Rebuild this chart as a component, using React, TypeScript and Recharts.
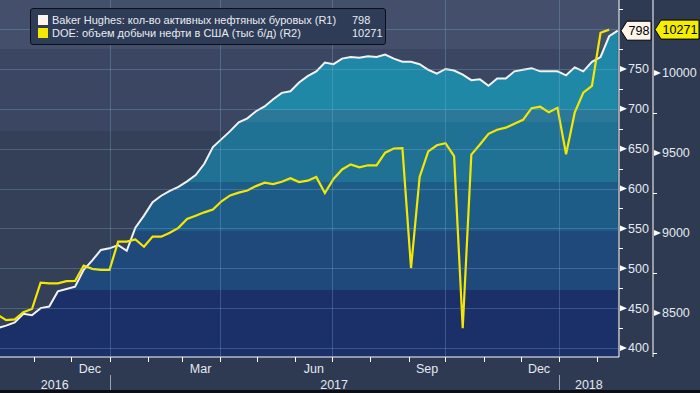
import React from 'react';
import { Area, ComposedChart, Line, XAxis, YAxis } from 'recharts';

// weekly points (plotted at week end)
const weeks = [
  '2016-10-02', '2016-10-09', '2016-10-16', '2016-10-23', '2016-10-30', '2016-11-06', '2016-11-13',
  '2016-11-20', '2016-11-27', '2016-12-04', '2016-12-11', '2016-12-18', '2016-12-25',
  '2017-01-01', '2017-01-08', '2017-01-15', '2017-01-22', '2017-01-29', '2017-02-05', '2017-02-12',
  '2017-02-19', '2017-02-26', '2017-03-05', '2017-03-12', '2017-03-19', '2017-03-26', '2017-04-02',
  '2017-04-09', '2017-04-16', '2017-04-23', '2017-04-30', '2017-05-07', '2017-05-14', '2017-05-21',
  '2017-05-28', '2017-06-04', '2017-06-11', '2017-06-18', '2017-06-25', '2017-07-02', '2017-07-09',
  '2017-07-16', '2017-07-23', '2017-07-30', '2017-08-06', '2017-08-13', '2017-08-20', '2017-08-27',
  '2017-09-03', '2017-09-10', '2017-09-17', '2017-09-24', '2017-10-01', '2017-10-08', '2017-10-15',
  '2017-10-22', '2017-10-29', '2017-11-05', '2017-11-12', '2017-11-19', '2017-11-26', '2017-12-03',
  '2017-12-10', '2017-12-17', '2017-12-24', '2017-12-31',
  '2018-01-07', '2018-01-14', '2018-01-21', '2018-01-28', '2018-02-04', '2018-02-11', '2018-02-18',
];

const rigCount = [
  425, 428, 432, 443, 441, 450, 452, 471, 474, 477, 498, 510, 523,
  525, 529, 522, 551, 566, 583, 591, 597, 602, 609, 617, 631, 652, 662, 672, 683, 688, 697, 703,
  712, 720, 722, 733, 741, 747, 758, 756, 763, 765, 764, 766, 765, 768, 763, 759, 759, 756, 749,
  744, 750, 748, 743, 736, 737, 729, 738, 738, 747, 749, 751, 747, 747, 747,
  742, 752, 747, 759, 765, 791, 798,
];

const oilOutput = [
  8490, 8455, 8460, 8505, 8525, 8690, 8685, 8685, 8699, 8700, 8796, 8776, 8770,
  8770, 8946, 8946, 8960, 8914, 8978, 8977, 9001, 9032, 9088, 9108, 9129, 9147, 9198, 9235, 9252,
  9265, 9293, 9314, 9305, 9320, 9342, 9318, 9327, 9350, 9250, 9338, 9397, 9429, 9410, 9423, 9423,
  9502, 9528, 9530, 8781, 9350, 9510, 9548, 9561, 9480, 8405, 9490, 9553, 9620, 9645, 9658, 9682,
  9707, 9780, 9789, 9754, 9782,
  9492, 9752, 9877, 9919, 10251, 10271, null,
];

const seriesNames = [
  'Baker Hughes: кол-во активных нефтяных буровых (R1)',
  'DOE: объем добычи нефти в США (тыс б/д) (R2)',
];

const xDomainDates = ['2016-10-04', '2018-02-19'];
const monthStarts = [
  '2016-11-01', '2016-12-01', '2017-01-01', '2017-02-01', '2017-03-01', '2017-04-01', '2017-05-01',
  '2017-06-01', '2017-07-01', '2017-08-01', '2017-09-01', '2017-10-01', '2017-11-01', '2017-12-01',
  '2018-01-01', '2018-02-01',
];
const quarterStarts = ['2017-01-01', '2017-04-01', '2017-07-01', '2017-10-01', '2018-01-01'];
const yearStarts = ['2017-01-01', '2018-01-01'];
const monthLabels = ['Dec', 'Mar', 'Jun', 'Sep', 'Dec'];
const monthLabelDates = ['2016-12-16', '2017-03-16', '2017-06-16', '2017-09-16', '2017-12-16'];
const yearLabels = ['2016', '2017', '2018'];

const rigDomain = [388.7, 836.5];
const rigTicks = [400, 450, 500, 550, 600, 650, 700, 750];
const rigMinorTicks = [425, 475, 525, 575, 625, 675, 725, 775, 825];
const rigGridValues = [400, 450, 500, 550, 600, 650, 700, 750, 800];

const outputDomain = [8225, 10456];
const outputTicks = [8500, 9000, 9500, 10000];
const outputMinorTicks = [8250, 8750, 9250, 9750];

const toDay = (s: string) => (Date.parse(s) - Date.parse('2017-01-01')) / 86400000;

const data = weeks.map((w, i) => ({ day: toDay(w), rigs: rigCount[i], output: oilOutput[i] }));
const lastRig = rigCount[rigCount.length - 1];
const lastOutput = oilOutput.filter((v) => v != null).slice(-1)[0] as number;

const xDomain = xDomainDates.map(toDay);
const yearBounds = [xDomain[0], ...yearStarts.map(toDay), xDomain[1]];
const yearCenters = yearLabels.map((_, i) => (yearBounds[i] + yearBounds[i + 1]) / 2);

const xTickInfo = new Map<number, { kind: string; label?: string; yearStart?: boolean; quarter?: boolean }>();
monthStarts.forEach((m) =>
  xTickInfo.set(toDay(m), { kind: 'month', yearStart: yearStarts.includes(m), quarter: quarterStarts.includes(m) })
);
monthLabelDates.forEach((m, i) => xTickInfo.set(toDay(m), { kind: 'mlabel', label: monthLabels[i] }));
yearCenters.forEach((d, i) => xTickInfo.set(d, { kind: 'year', label: yearLabels[i] }));
const xTicks = Array.from(xTickInfo.keys());

const FONT = '"Liberation Sans", Arial, sans-serif';
const TEXT = '#e4e9ef';
const GRID = '#86b6dc';
const GRID_OPACITY = 0.3;
const PLOT_LEFT = 0;
const PLOT_TOP = 0;
// snap 1px lines to pixel centres
const crisp = (v: number) => Math.round(v) + 0.5;

const XTick = (props: any) => {
  const { x, y, payload } = props;
  const info = xTickInfo.get(payload.value);
  if (!info) return null;
  if (info.kind === 'month') {
    const cx = crisp(x);
    return (
      <g>
        {info.quarter && (
          <line x1={cx} x2={cx} y1={PLOT_TOP} y2={y - 1} stroke={GRID} strokeOpacity={GRID_OPACITY} />
        )}
        <line x1={cx} x2={cx} y1={y} y2={y + 5} stroke="#ffffff" />
        {info.yearStart && <line x1={cx} x2={cx} y1={y + 18} y2={y + 36} stroke="#9aa3b3" />}
      </g>
    );
  }
  return (
    <text
      x={x}
      y={info.kind === 'year' ? y + 32 : y + 16}
      textAnchor="middle"
      fill={TEXT}
      fontSize={12.5}
      fontFamily={FONT}
    >
      {info.label}
    </text>
  );
};

const Tag = ({ x, y, w, fill, text }: any) => (
  <g>
    <path
      d={`M${x + 2},${y} L${x + 8},${y - 9.5} L${x + w},${y - 9.5} L${x + w},${y + 9.5} L${x + 8},${y + 9.5} Z`}
      fill={fill}
      stroke="#000000"
    />
    <text x={x + 4 + w / 2} y={y} dy="0.36em" textAnchor="middle" fill="#000" fontSize={12.5} fontFamily={FONT}>
      {text}
    </text>
  </g>
);

const makeYTick = (
  major: number[],
  minor: number[],
  grid: number[],
  last: number,
  tagW: number,
  tagFill: string
) =>
  (props: any) => {
    const { x, y, payload } = props;
    const v = payload.value;
    if (v === last) return <Tag x={x} y={y} w={tagW} fill={tagFill} text={String(v)} />;
    const cy = crisp(y);
    return (
      <g>
        {grid.includes(v) && (
          <line x1={PLOT_LEFT} x2={x - 1} y1={cy} y2={cy} stroke={GRID} strokeOpacity={GRID_OPACITY} />
        )}
        {minor.includes(v) && <line x1={x} x2={x + 4} y1={cy} y2={cy} stroke="#ffffff" />}
        {major.includes(v) && (
          <>
            <path d={`M${x + 1},${y - 3} L${x + 8},${y} L${x + 1},${y + 3} Z`} fill="#ffffff" />
            <text x={x + 9} y={y} dy="0.36em" fill={TEXT} fontSize={12.5} fontFamily={FONT}>
              {v}
            </text>
          </>
        )}
      </g>
    );
  };

const RigTick = makeYTick(rigTicks, rigMinorTicks, rigGridValues, lastRig, 32, '#fdf4ec');
const OutputTick = makeYTick(outputTicks, outputMinorTicks, [], lastOutput, 46, '#f4ee00');

export default function App() {
  return (
    <div
      style={{
        position: 'absolute',
        left: 0,
        top: 0,
        width: 700,
        height: 393,
        background: '#2d3a52',
        fontFamily: FONT,
        overflow: 'hidden',
      }}
    >
      {/* plot background bands above the rig area */}
      <div
        style={{
          position: 'absolute',
          left: 0,
          top: 0,
          width: 619,
          height: 357,
          background:
            'linear-gradient(to bottom, #434f6b 0px, #434f6b 49px, #3b4762 49px, #3b4762 131px, #343f58 131px, #343f58 357px)',
        }}
      />
      <div style={{ position: 'absolute', left: 0, top: 0 }}>
        <ComposedChart
          width={700}
          height={393}
          data={data}
          margin={{ top: PLOT_TOP, right: 0, bottom: 0, left: PLOT_LEFT }}
        >
          <defs>
            <linearGradient id="rigFill" gradientUnits="userSpaceOnUse" x1="0" y1="0" x2="0" y2="357">
              <stop offset="0" stopColor="#1f88a6" />
              <stop offset="0.308" stopColor="#1f88a6" />
              <stop offset="0.308" stopColor="#2b7898" />
              <stop offset="0.342" stopColor="#2b7898" />
              <stop offset="0.342" stopColor="#1f7294" />
              <stop offset="0.51" stopColor="#1f7294" />
              <stop offset="0.51" stopColor="#1e5c88" />
              <stop offset="0.647" stopColor="#1e5c88" />
              <stop offset="0.647" stopColor="#1f497b" />
              <stop offset="0.812" stopColor="#1f497b" />
              <stop offset="0.812" stopColor="#1b2f69" />
              <stop offset="1" stopColor="#1b2f69" />
            </linearGradient>
          </defs>
          <Area
            yAxisId="r1"
            dataKey="rigs"
            type="linear"
            stroke="none"
            fill="url(#rigFill)"
            fillOpacity={1}
            activeDot={false}
            isAnimationActive={false}
          />
          <Line
            yAxisId="r1"
            dataKey="rigs"
            type="linear"
            stroke="#f2f2f2"
            strokeWidth={2}
            dot={false}
            activeDot={false}
            isAnimationActive={false}
          />
          <Line
            yAxisId="r2"
            dataKey="output"
            type="linear"
            stroke="#f4e800"
            strokeWidth={2.2}
            dot={false}
            activeDot={false}
            isAnimationActive={false}
          />
          <XAxis
            dataKey="day"
            type="number"
            domain={xDomain}
            allowDataOverflow
            ticks={xTicks}
            interval={0}
            height={36}
            tickSize={0}
            tickMargin={0}
            tickLine={false}
            axisLine={{ stroke: '#ffffff' }}
            tick={XTick}
          />
          <YAxis
            yAxisId="r1"
            orientation="right"
            type="number"
            domain={rigDomain}
            allowDataOverflow
            ticks={[...rigGridValues, ...rigMinorTicks, lastRig]}
            interval={0}
            width={34}
            tickSize={0}
            tickMargin={0}
            tickLine={false}
            axisLine={{ stroke: '#ffffff' }}
            tick={RigTick}
          />
          <YAxis
            yAxisId="r2"
            orientation="right"
            type="number"
            domain={outputDomain}
            allowDataOverflow
            ticks={[...outputTicks, ...outputMinorTicks, lastOutput]}
            interval={0}
            width={47}
            tickSize={0}
            tickMargin={0}
            tickLine={false}
            axisLine={{ stroke: '#ffffff' }}
            tick={OutputTick}
          />
        </ComposedChart>
      </div>
      {/* legend */}
      <div
        style={{
          position: 'absolute',
          left: 30,
          top: 8,
          width: 356,
          height: 37,
          background: '#2f3c57',
          border: '1px solid #0c0f16',
          borderRadius: 3,
          boxSizing: 'border-box',
          color: '#e8ecf0',
          fontSize: 11,
          lineHeight: '13px',
        }}
      >
        {seriesNames.map((name, i) => (
          <div key={name} style={{ position: 'absolute', left: 7, top: 5 + i * 13, width: 345, height: 13 }}>
            <span
              style={{
                position: 'absolute',
                left: 0,
                top: 1,
                width: 10,
                height: 10,
                background: i === 0 ? '#fdf4ec' : '#f4e800',
              }}
            />
            <span style={{ position: 'absolute', left: 14, top: 0, whiteSpace: 'nowrap' }}>{name}</span>
            <span style={{ position: 'absolute', left: 314, top: 0 }}>{i === 0 ? lastRig : lastOutput}</span>
          </div>
        ))}
      </div>
      <div style={{ position: 'absolute', left: 0, top: 390, width: 700, height: 3, background: '#0b0e15' }} />
    </div>
  );
}
